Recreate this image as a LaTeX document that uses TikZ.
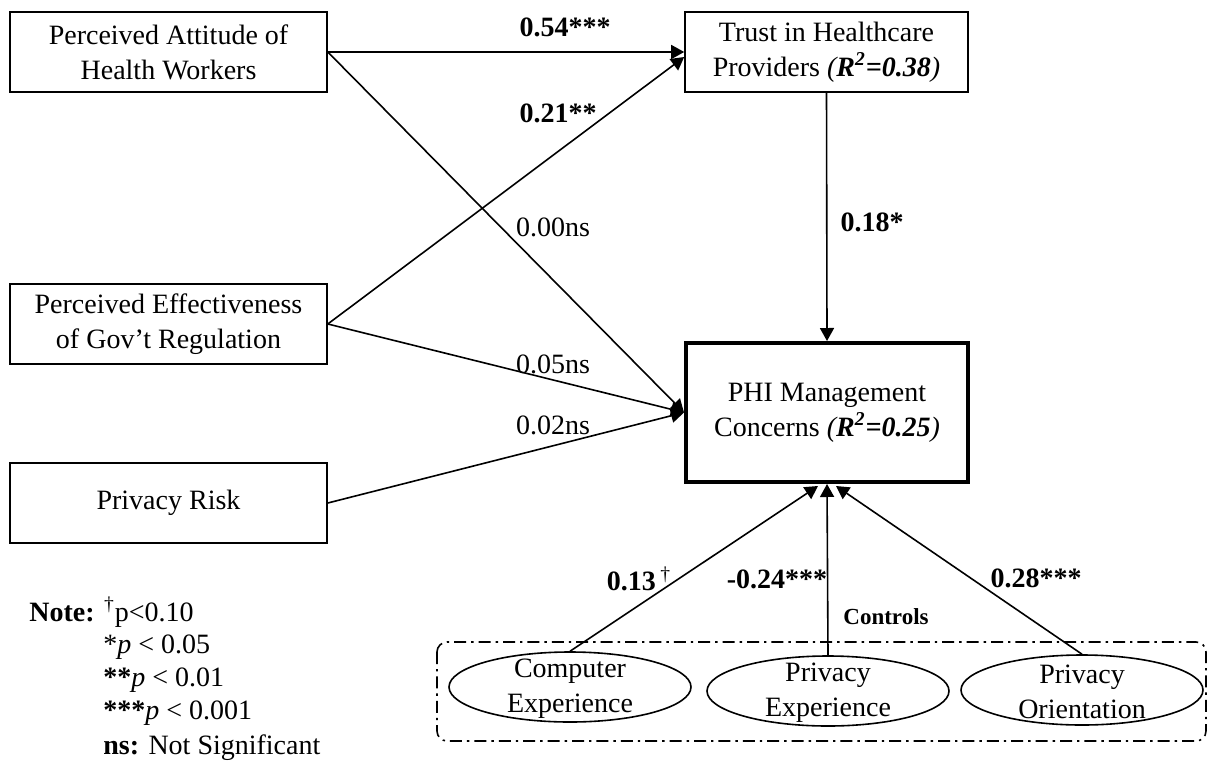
\documentclass[tikz,border=0pt]{standalone}
\usepackage{fontspec}
\setmainfont{Liberation Serif}
\usetikzlibrary{arrows.meta,calc,shapes.geometric}
\begin{document}
\begin{tikzpicture}[x=0.5pt,y=-0.5pt,
  font=\fontsize{14pt}{17.5pt}\selectfont,
  box/.style={draw,line width=0.8pt,minimum width=158.5pt,minimum height=40pt,align=center,inner sep=0pt},
  conn/.style={line width=0.8pt,-{Triangle[length=6.5pt,width=7pt]}},
  plain/.style={line width=0.8pt},
  lab/.style={inner sep=0pt},
  ell/.style={draw,ellipse,line width=0.8pt,minimum width=121pt,minimum height=35pt,inner sep=0pt},
  txt/.style={inner sep=0pt,align=center},
  notel/.style={inner sep=0pt,anchor=west}
]
\useasboundingbox (0,0) rectangle (1208,765);

% boxes
\node[box] (A) at (168.5,52) {Perceived Attitude of\\Health Workers};
\node[box] (B) at (168.5,324) {Perceived Effectiveness\\of Gov’t Regulation};
\node[box] (PR) at (168.5,503) {Privacy Risk};
\node[box,minimum width=141.5pt] (T) at (826.5,52) {Trust in Healthcare\\Providers \textit{(\textbf{R\textsuperscript{2}=0.38})}};
\node[box,minimum width=141pt,minimum height=69.5pt,line width=2pt] (P) at (827,412.5) {PHI Management\\Concerns \textit{(\textbf{R\textsuperscript{2}=0.25})}};

% controls group
\draw[line width=0.8pt,rounded corners=5pt,dash pattern=on 6pt off 2.5pt on 1.2pt off 2.5pt] (437,642) rectangle (1206,741);
\node[ell] (e1) at (570,687) {};
\node[ell] (e2) at (828,691) {};
\node[ell] (e3) at (1082,690) {};
\node[txt] (e1t) at (570,689) {Computer\\Experience};
\node[txt] (e2t) at (828,693) {Privacy\\Experience};
\node[txt] (e3t) at (1082,692) {Privacy\\Orientation};
\node[lab,font=\fontsize{11.5pt}{14pt}\selectfont\bfseries] (ctl) at (886,617) {Controls};

% connectors
\draw[conn] (A.east) -- (T.west);
\draw[conn] (A.east) -- (P.west);
\draw[conn] (B.east) -- ($(T.west)+(0,5)$);
\draw[conn] (B.east) -- (P.west);
\draw[conn] (PR.east) -- (P.west);
\draw[conn] (T.south) -- (P.north);
\draw[conn] (e1.north) -- ($(P.south)+(-9,2)$);
\draw[conn] (e2.north) -- (P.south);
\draw[conn] (e3.north) -- ($(P.south)+(9,2)$);

% path labels
\node[lab] (l1) at (565,27) {\textbf{0.54***}};
\node[lab] (l2) at (558,113) {\textbf{0.21**}};
\node[lab] (l3) at (553,227) {0.00ns};
\node[lab] (l4) at (872,222) {\textbf{0.18*}};
\node[lab] (l5) at (553,364) {0.05ns};
\node[lab] (l6) at (553,425) {0.02ns};
\node[lab] (l7) at (639,579) {\textbf{0.13}\,\textsuperscript{†}};
\node[lab] (l8) at (777,579) {\textbf{-0.24***}};
\node[lab] (l9) at (1036,578) {\textbf{0.28***}};

% note
\node[notel] (n0) at (29,612) {\textbf{Note:} \textsuperscript{†}p<0.10};
\node[notel] (n1) at (103,647) {*\textit{p} < 0.05};
\node[notel] (n2) at (103,680) {\textbf{**}\textit{p} < 0.01};
\node[notel] (n3) at (103,713) {\textbf{***}\textit{p} < 0.001};
\node[notel] (n4) at (103,748) {\textbf{ns:} Not Significant};
\end{tikzpicture}
\end{document}
